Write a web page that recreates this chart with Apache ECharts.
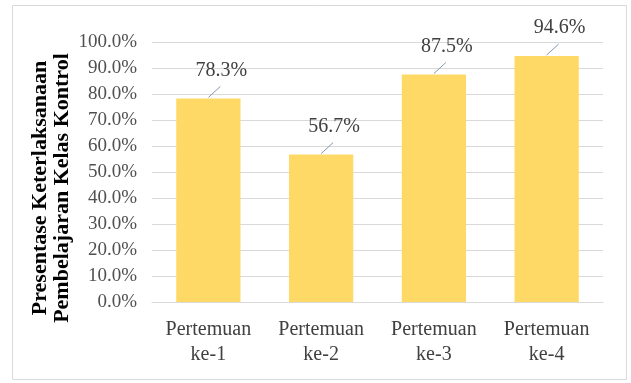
<!DOCTYPE html>
<html><head><meta charset="utf-8">
<style>html,body{margin:0;padding:0;background:#fff}#c{width:631px;height:383px}</style>
<script src="https://cdn.jsdelivr.net/npm/echarts@6/dist/echarts.min.js"></script>
</head><body><div id="c"></div>
<script>
var categories = ['Pertemuan\nke-1','Pertemuan\nke-2','Pertemuan\nke-3','Pertemuan\nke-4'];
var values = [78.3, 56.7, 87.5, 94.6];
var yTicks = {min: 0, max: 100, interval: 10};
var yName = 'Presentase Keterlaksanaan\nPembelajaran Kelas Kontrol';

var chart = echarts.init(document.getElementById('c'), null, {renderer:'canvas'});
var F = '"Liberation Serif","Times New Roman",serif';
chart.setOption({
  animation:false,
  graphic:[
    {type:'rect',shape:{x:12.5,y:5.5,width:614,height:374},style:{fill:'none',stroke:'#d9d9d9',lineWidth:1}},
    {type:'text',x:51,y:188,rotation:Math.PI/2,
     style:{text:yName,fontFamily:F,fontSize:22,fontWeight:'bold',fill:'#000',
            textAlign:'center',textVerticalAlign:'middle',lineHeight:22}}
  ],
  grid:{left:152,right:28,top:42,bottom:81},
  xAxis:{type:'category',data:categories,
    axisLine:{lineStyle:{color:'#d9d9d9'}},axisTick:{show:false},
    axisLabel:{fontFamily:F,fontSize:20,color:'#404040',lineHeight:25,margin:15}},
  yAxis:{type:'value',min:yTicks.min,max:yTicks.max,interval:yTicks.interval,
    axisLine:{show:false},axisTick:{show:false},
    splitLine:{lineStyle:{color:'#d9d9d9'}},
    axisLabel:{fontFamily:F,fontSize:19,color:'#505050',margin:15,formatter:function(v){return v.toFixed(1)+'%';}}},
  series:[{type:'bar',data:values,barWidth:'57%',itemStyle:{color:'#FFD966'},
    label:{show:true,position:'top',distance:18,offset:[13,0],fontFamily:F,fontSize:20,color:'#404040',
      formatter:function(p){return p.value.toFixed(1)+'%';}}
  },{
    type:'custom',data:values.map(function(v,i){return [i,v];}),silent:true,z:5,
    renderItem:function(params,api){
      var p=api.coord([api.value(0),api.value(1)]);
      return {type:'line',shape:{x1:p[0],y1:p[1]-1,x2:p[0]+12,y2:p[1]-12},
        style:{stroke:'#8497b0',lineWidth:1}};
    }
  }]
});
</script></body></html>
